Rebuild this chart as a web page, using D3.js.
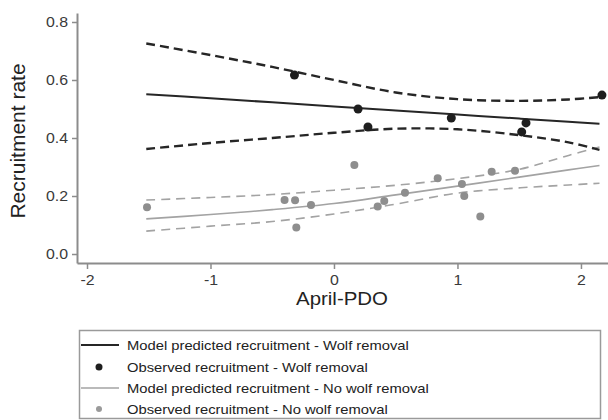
<!DOCTYPE html>
<html>
<head>
<meta charset="utf-8">
<script src="https://cdn.jsdelivr.net/npm/d3@7"></script>
<style>
  html, body { margin: 0; padding: 0; background: #fff; }
  svg { display: block; font-family: "Liberation Sans", Arial, sans-serif; }
</style>
</head>
<body>
<div id="chart"></div>
<script>
// x grid of the model curves (April-PDO)
const pdoGrid = [-1.52, -1, -0.5, 0, 0.5, 1, 1.5, 1.9, 2.15];

// wolf removal: fit and 95% band
const wolfFit   = [0.551, 0.537, 0.523, 0.509, 0.495, 0.481, 0.467, 0.456, 0.449];
const wolfUpper = [0.726, 0.686, 0.645, 0.600, 0.557, 0.534, 0.528, 0.533, 0.541];
const wolfLower = [0.362, 0.383, 0.400, 0.418, 0.432, 0.430, 0.410, 0.385, 0.359];

// no wolf removal: fit and 95% band
const noWolfFit   = [0.121, 0.136, 0.153, 0.174, 0.204, 0.234, 0.265, 0.290, 0.305];
const noWolfUpper = [0.186, 0.195, 0.205, 0.220, 0.237, 0.260, 0.292, 0.340, 0.369];
const noWolfLower = [0.079, 0.096, 0.112, 0.138, 0.172, 0.210, 0.228, 0.238, 0.244];

// observed recruitment
const wolfObsX = [-0.32, 0.195, 0.275, 0.95, 1.52, 1.555, 2.17];
const wolfObsY = [0.617, 0.500, 0.438, 0.469, 0.421, 0.452, 0.548];
const noWolfObsX = [-1.514, -0.40, -0.315, -0.305, -0.186, 0.165, 0.354, 0.407, 0.575, 0.84, 1.036, 1.055, 1.185, 1.277, 1.466];
const noWolfObsY = [0.161, 0.186, 0.185, 0.091, 0.169, 0.307, 0.164, 0.183, 0.211, 0.261, 0.241, 0.200, 0.129, 0.284, 0.287];

const xTicks = [-2, -1, 0, 1, 2];
const yTicks = [0, 0.2, 0.4, 0.6, 0.8];

const legendLabels = [
  'Model predicted recruitment - Wolf removal',
  'Observed recruitment - Wolf removal',
  'Model predicted recruitment - No wolf removal',
  'Observed recruitment - No wolf removal'
];

const W = 608, H = 420;
const stretch = 1.135;  // the glyphs in the picture are a bit wide

const svg = d3.select('#chart').append('svg')
  .attr('width', W)
  .attr('height', H);

svg.append('rect').attr('width', W).attr('height', H).attr('fill', '#fff');

const x = d3.scaleLinear().domain([-2.081, 2.219]).range([77, 608]);
const y = d3.scaleLinear().domain([-0.031, 0.831]).range([263, 13]);

function widen(sel) {
  sel.each(function () {
    const len = this.getComputedTextLength();
    d3.select(this).attr('textLength', len * stretch).attr('lengthAdjust', 'spacingAndGlyphs');
  });
}

// axes
const xAxis = svg.append('g')
  .attr('transform', 'translate(0,263)')
  .call(d3.axisBottom(x).tickValues(xTicks).tickFormat(d => String(d)).tickSize(6).tickSizeOuter(0).tickPadding(6));
const yAxis = svg.append('g')
  .attr('transform', 'translate(77,0)')
  .call(d3.axisLeft(y).tickValues(yTicks).tickFormat(d => d.toFixed(1)).tickSize(5).tickSizeOuter(0).tickPadding(4));

[xAxis, yAxis].forEach(g => {
  g.select('.domain').attr('stroke', '#8c8c8c').attr('stroke-width', 2);
  g.selectAll('.tick line').attr('stroke', '#8c8c8c').attr('stroke-width', 1.5);
  g.selectAll('.tick text')
    .attr('fill', '#3a3a3a')
    .style('font-size', '14px')
    .style('font-family', '"Liberation Sans", Arial, sans-serif');
});
xAxis.selectAll('.tick text').call(widen);
yAxis.selectAll('.tick text').call(widen);

// axis titles
svg.append('text')
  .attr('x', 342)
  .attr('y', 305)
  .attr('text-anchor', 'middle')
  .attr('fill', '#222')
  .style('font-size', '18px')
  .text('April-PDO')
  .call(widen);

svg.append('text')
  .attr('transform', 'translate(25,141) rotate(-90)')
  .attr('text-anchor', 'middle')
  .attr('fill', '#222')
  .style('font-size', '21px')
  .text('Recruitment rate');

// curves
function curveOf(vals) {
  return pdoGrid.map((p, i) => [p, vals[i]]);
}
const line = d3.line()
  .x(d => x(d[0]))
  .y(d => y(d[1]))
  .curve(d3.curveCatmullRom.alpha(0.5));

const curves = [
  { vals: noWolfUpper, color: '#a3a3a3', width: 1.6, dash: '9,6' },
  { vals: noWolfLower, color: '#a3a3a3', width: 1.6, dash: '9,6' },
  { vals: noWolfFit, color: '#a3a3a3', width: 1.6, dash: null },
  { vals: wolfUpper, color: '#262626', width: 2.4, dash: '9,5' },
  { vals: wolfLower, color: '#262626', width: 2.4, dash: '9,5' },
  { vals: wolfFit, color: '#262626', width: 2, dash: null }
];

curves.forEach(c => {
  svg.append('path')
    .datum(curveOf(c.vals))
    .attr('fill', 'none')
    .attr('stroke', c.color)
    .attr('stroke-width', c.width)
    .attr('stroke-dasharray', c.dash)
    .attr('d', line);
});

// observed points
svg.selectAll('.dot-nowolf')
  .data(noWolfObsX.map((v, i) => [v, noWolfObsY[i]]))
  .enter().append('circle')
  .attr('class', 'dot-nowolf')
  .attr('cx', d => x(d[0]))
  .attr('cy', d => y(d[1]))
  .attr('r', 4)
  .attr('fill', '#8e8e8e');

svg.selectAll('.dot-wolf')
  .data(wolfObsX.map((v, i) => [v, wolfObsY[i]]))
  .enter().append('circle')
  .attr('class', 'dot-wolf')
  .attr('cx', d => x(d[0]))
  .attr('cy', d => y(d[1]))
  .attr('r', 4.5)
  .attr('fill', '#1e1e1e');

// legend
const legend = svg.append('g');
legend.append('rect')
  .attr('x', 79.5)
  .attr('y', 330.5)
  .attr('width', 521)
  .attr('height', 88)
  .attr('fill', '#fff')
  .attr('stroke', '#9a9a9a')
  .attr('stroke-width', 1.5);

const legendStyles = [
  { kind: 'line', color: '#262626', width: 2 },
  { kind: 'dot', color: '#1e1e1e', r: 3.5 },
  { kind: 'line', color: '#a3a3a3', width: 1.6 },
  { kind: 'dot', color: '#9a9a9a', r: 3 }
];
const rowY = [345, 367, 388, 409];

legendLabels.forEach((label, i) => {
  const st = legendStyles[i];
  const ry = rowY[i];
  if (st.kind === 'line') {
    legend.append('line')
      .attr('x1', 81).attr('x2', 119)
      .attr('y1', ry).attr('y2', ry)
      .attr('stroke', st.color)
      .attr('stroke-width', st.width);
  } else {
    legend.append('circle')
      .attr('cx', 99).attr('cy', ry)
      .attr('r', st.r)
      .attr('fill', st.color);
  }
  legend.append('text')
    .attr('x', 127)
    .attr('y', ry + 4.5)
    .attr('fill', '#222')
    .style('font-size', '13px')
    .text(label)
    .call(widen);
});
</script>
</body>
</html>
